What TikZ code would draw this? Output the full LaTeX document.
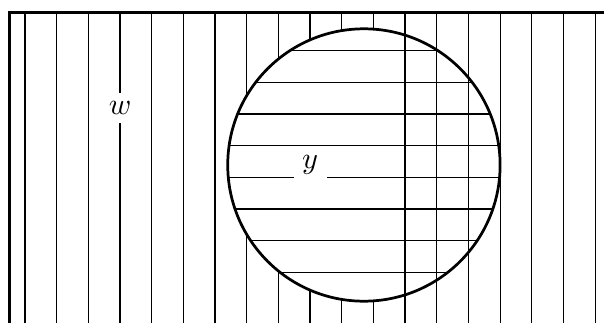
\documentclass[tikz,border=0pt]{standalone}
\usepackage{tikz}
\usetikzlibrary{calc}

\begin{document}
\begin{tikzpicture}[x=0.367cm,y=0.367cm]

    \useasboundingbox (-0.79,-0.6) rectangle (18.28,9.6);
    \coordinate (centro) at (10.7,4.39);

    % linhas verticais
    \foreach \k in {0,...,18}{
      \draw[line width=0.4pt] (\k,-0.6)--(\k,9.22);
    }

    % moldura
    \draw[line width=1pt] (-0.5,-0.6)--(-0.5,9.22)--(18.28,9.22);

    % disco
    \fill[white] (centro) circle (4.3);
    \begin{scope}
      \clip (centro) circle (4.3);
      \foreach \j in {1,...,8}{
        \draw[line width=0.4pt] (6,\j)--(16,\j);
      }
      \foreach \k in {13,14}{
        \draw[line width=0.4pt] (\k,0)--(\k,9);
      }
      \draw[line width=0.9pt] (12,0)--(12,9);
    \end{scope}
    \draw[line width=0.9pt] (centro) circle (4.3);

    % rotulos
    \node[fill=white,inner xsep=2pt,inner ysep=2.8pt] (w) at (3,6.2) {$w$};
    \node[fill=white,inner xsep=2.8pt,inner ysep=2.2pt] (y) at ($(centro)+(-1.7,0)$) {$y$};

  \end{tikzpicture}
\end{document}
